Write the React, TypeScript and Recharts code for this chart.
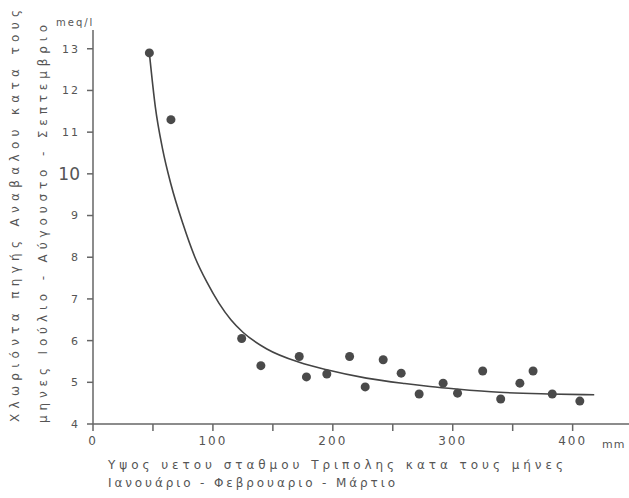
import React from 'react'
import { ComposedChart, Line, Scatter, XAxis, YAxis } from 'recharts'

// measured points: rainfall (mm, Jan-Mar) vs chloride (meq/l, Jul-Sep)
const rainMm = [47, 65, 124, 140, 172, 178, 195, 214, 227, 242, 257, 272, 292, 304, 325, 340, 356, 367, 383, 406]
const chloride = [12.9, 11.3, 6.05, 5.4, 5.62, 5.13, 5.2, 5.62, 4.89, 5.54, 5.22, 4.72, 4.98, 4.74, 5.27, 4.6, 4.98, 5.27, 4.72, 4.55]

// fitted curve
const curveX = [47, 52, 58, 65, 75, 85, 95, 105, 115, 125, 145, 172, 195, 228, 260, 281, 303, 339, 380, 418]
const curveY = [12.9, 11.6, 10.6, 9.75, 8.8, 8.0, 7.4, 6.9, 6.5, 6.2, 5.8, 5.48, 5.3, 5.1, 4.97, 4.9, 4.84, 4.76, 4.72, 4.7]

const yTicks = [4, 5, 6, 7, 8, 9, 10, 11, 12, 13]
const xTicks = [0, 50, 100, 150, 200, 250, 300, 350, 400]

const points = rainMm.map((x, i) => ({ x, y: chloride[i] }))
const curve = curveX.map((x, i) => ({ x, y: curveY[i] }))

const ink = '#555'
const font = '"DejaVu Sans", sans-serif'

function XTick({ x, y, payload }: any) {
  if (payload.value % 100 !== 0) return null
  return (
    <text x={x} y={y} dy="0.71em" textAnchor="middle" fill={ink} fontSize={12} letterSpacing={2} fontFamily={font}>
      {payload.value}
    </text>
  )
}

function YTick({ x, y, payload }: any) {
  const big = payload.value === 10
  return (
    <text x={x} y={y} dy="0.355em" textAnchor="end" fill={ink} fontSize={big ? 17 : 11} letterSpacing={big ? 0 : 2} fontFamily={font}>
      {payload.value}
    </text>
  )
}

function Dot({ cx, cy }: any) {
  return <circle cx={cx} cy={cy} r={4.5} fill="#4a4a4a" />
}

export default function App() {
  return (
    <div style={{ position: 'absolute', left: 0, top: 0, width: 629, height: 498, background: '#fff' }}>
      <ComposedChart width={629} height={498} margin={{ top: 30, right: 0, bottom: 0, left: 0 }}>
        <XAxis
          type="number"
          dataKey="x"
          domain={[0, 447]}
          ticks={xTicks}
          allowDataOverflow
          height={74}
          stroke="#666"
          strokeWidth={1.5}
          tickSize={7}
          tickMargin={5}
          tick={<XTick />}
        />
        <YAxis
          type="number"
          domain={[4, 13.45]}
          ticks={yTicks}
          allowDataOverflow
          width={93}
          stroke="#666"
          strokeWidth={1.5}
          tickSize={6}
          tickMargin={7}
          tick={<YTick />}
        />
        <Line
          data={curve}
          dataKey="y"
          type="monotone"
          dot={false}
          stroke="#444"
          strokeWidth={1.6}
          isAnimationActive={false}
        />
        <Scatter data={points} dataKey="y" shape={<Dot />} isAnimationActive={false} />
      </ComposedChart>
      <svg width={629} height={498} style={{ position: 'absolute', left: 0, top: 0, pointerEvents: 'none' }}>
        <g fill={ink} fontFamily={font} fontSize={12}>
          <text x={56} y={23} fontSize={10} letterSpacing={2} dominantBaseline="middle">meq/l</text>
          <text x={602} y={445} fontSize={11} letterSpacing={1} dominantBaseline="middle">mm</text>
          <text transform="translate(15,422) rotate(-90)" textLength={412} lengthAdjust="spacing" dominantBaseline="middle">
            Χλωριόντα πηγής Αναβαλου κατα τους
          </text>
          <text transform="translate(43,423) rotate(-90)" textLength={398} lengthAdjust="spacing" dominantBaseline="middle">
            μηνες Ιούλιο - Αύγουστο - Σεπτεμβριο
          </text>
          <text x={108} y={465} textLength={455} lengthAdjust="spacing" dominantBaseline="middle">
            Υψος υετου σταθμου Τριπολης κατα τους μήνες
          </text>
          <text x={108} y={483} textLength={287} lengthAdjust="spacing" dominantBaseline="middle">
            Ιανουάριο - Φεβρουαριο - Μάρτιο
          </text>
        </g>
      </svg>
    </div>
  )
}
